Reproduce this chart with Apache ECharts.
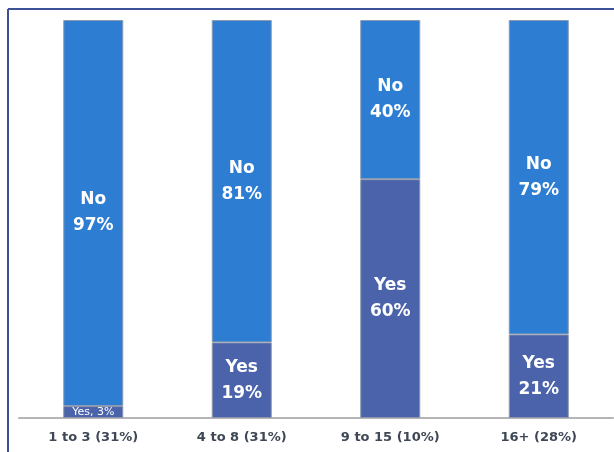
<!DOCTYPE html>
<html><head><meta charset="utf-8">
<script src="https://cdn.jsdelivr.net/npm/echarts@6/dist/echarts.min.js"></script>
<style>html,body{margin:0;padding:0;background:#fff}#c{width:614px;height:452px}</style>
</head><body><div id="c"></div>
<script>
const categories = ["1 to 3 (31%)", "4 to 8 (31%)", "9 to 15 (10%)", "16+ (28%)"];
const yesValues = [3, 19, 60, 21];
const noValues = [97, 81, 40, 79];

const chart = echarts.init(document.getElementById('c'), null, {renderer: 'canvas'});
const labelFont = {color: '#fff', fontFamily: 'DejaVu Sans', fontWeight: 'bold', fontSize: 17, lineHeight: 26};
chart.setOption({
  animation: false,
  graphic: [
    {type: 'line', shape: {x1: 8, y1: 9, x2: 614, y2: 9}, style: {stroke: '#3e5196', lineWidth: 2}},
    {type: 'line', shape: {x1: 8, y1: 9, x2: 8, y2: 452}, style: {stroke: '#3e5196', lineWidth: 2}}
  ],
  grid: {left: 19, right: 1, top: 20, bottom: 34},
  xAxis: {
    type: 'category', data: categories,
    axisLine: {lineStyle: {color: '#b5b5b5', width: 2}},
    axisTick: {show: false},
    axisLabel: {color: '#3d4755', fontFamily: 'DejaVu Sans', fontWeight: 'bold', fontSize: 13, margin: 13}
  },
  yAxis: {type: 'value', min: 0, max: 100, show: false, splitLine: {show: false}},
  series: [
    {
      name: 'Yes', type: 'bar', stack: 's', barWidth: 60,
      data: yesValues.map((v, i) => i === 0 ? {value: v, label: {formatter: 'Yes, ' + v + '%', fontSize: 11, lineHeight: 12, fontWeight: 'normal'}} : v),
      itemStyle: {color: '#4a63ab', borderColor: '#8d96aa', borderWidth: 1},
      label: Object.assign({show: true, position: 'inside', formatter: p => 'Yes\n' + p.value + '%'}, labelFont)
    },
    {
      name: 'No', type: 'bar', stack: 's', barWidth: 60,
      data: noValues,
      itemStyle: {color: '#2d7dd3', borderColor: '#8d9bb0', borderWidth: 1},
      label: Object.assign({show: true, position: 'inside', formatter: p => 'No\n' + p.value + '%'}, labelFont)
    }
  ]
});
</script></body></html>
